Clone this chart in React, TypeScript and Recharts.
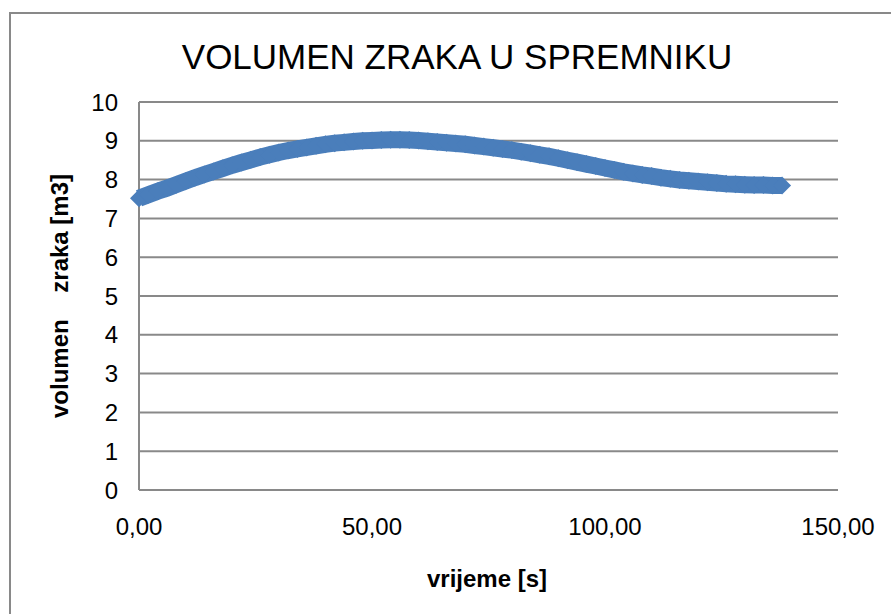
import { ScatterChart, Scatter, XAxis, YAxis, CartesianGrid, Label } from 'recharts';

// vrijeme [s]
const times = [
  0, 2, 4, 6, 8, 10, 12, 14, 16, 18, 20, 22, 24, 26, 28, 30, 32, 34, 36, 38,
  40, 42, 44, 46, 48, 50, 52, 54, 56, 58, 60, 62, 64, 66, 68, 70, 72, 74, 76, 78,
  80, 82, 84, 86, 88, 90, 92, 94, 96, 98, 100, 102, 104, 106, 108, 110, 112, 114, 116, 118,
  120, 122, 124, 126, 128, 130, 132, 134, 136, 138,
];

// volumen zraka [m3]
const volumes = [
  7.52, 7.61, 7.7, 7.78, 7.87, 7.96, 8.05, 8.13, 8.21, 8.29, 8.37, 8.44, 8.51, 8.58, 8.64, 8.7, 8.75, 8.79, 8.83, 8.87,
  8.91, 8.94, 8.96, 8.98, 9.0, 9.01, 9.02, 9.03, 9.03, 9.02, 9.01, 8.99, 8.97, 8.95, 8.93, 8.91, 8.88, 8.85, 8.82, 8.79,
  8.76, 8.72, 8.68, 8.64, 8.6, 8.55, 8.5, 8.45, 8.4, 8.35, 8.3, 8.25, 8.2, 8.16, 8.12, 8.09, 8.05, 8.02, 7.99, 7.97,
  7.95, 7.93, 7.91, 7.89, 7.88, 7.87, 7.86, 7.86, 7.85, 7.85,
];

const xTicks = [0, 50, 100, 150];
const yTicks = [0, 1, 2, 3, 4, 5, 6, 7, 8, 9, 10];

const data = times.map((t, i) => ({ t, v: volumes[i] }));

const BLUE = '#4a7ebb';
const GRID = '#898989';
const FONT = '"Liberation Sans", Arial, sans-serif';

// excel style diamond marker
const Diamond = (props: any) => {
  const { cx, cy } = props;
  const r = 9;
  return (
    <polygon
      points={`${cx},${cy - r} ${cx + r},${cy} ${cx},${cy + r} ${cx - r},${cy}`}
      fill={BLUE}
    />
  );
};

const YTitle = () => (
  <text
    x={59}
    y={296}
    transform="rotate(-90 59 296)"
    textAnchor="middle"
    dominantBaseline="central"
    fontFamily={FONT}
    fontSize={24}
    fontWeight="bold"
    fill="#000"
  >
    {'volumen\u00a0\u00a0\u00a0\u00a0zraka [m3]'}
  </text>
);

const XTitle = () => (
  <text
    x={487}
    y={587}
    textAnchor="middle"
    fontFamily={FONT}
    fontSize={24}
    fontWeight="bold"
    fill="#000"
  >
    vrijeme [s]
  </text>
);

export default function App() {
  return (
    <div style={{ position: 'absolute', left: 0, top: 0, width: 891, height: 614, overflow: 'hidden', background: '#fff' }}>
      <div
        style={{
          position: 'absolute',
          left: 9,
          top: 12,
          width: 920,
          height: 700,
          border: `2px solid ${GRID}`,
        }}
      />
      <div
        style={{
          position: 'absolute',
          left: 157,
          top: 39,
          width: 600,
          textAlign: 'center',
          fontFamily: FONT,
          fontSize: 35,
          lineHeight: '35px',
          color: '#000',
        }}
      >
        VOLUMEN ZRAKA U SPREMNIKU
      </div>
      <div style={{ position: 'absolute', left: 0, top: 0 }}>
        <ScatterChart width={891} height={614} margin={{ top: 102, right: 53, left: 0, bottom: 0 }}>
          <CartesianGrid vertical={false} stroke={GRID} strokeWidth={2} />
          <XAxis
            type="number"
            dataKey="t"
            domain={[0, 150]}
            ticks={xTicks}
            interval={0}
            height={124}
            axisLine={{ stroke: GRID, strokeWidth: 2 }}
            tickLine={false}
            tickMargin={22}
            tick={{ fill: '#000', fontSize: 24, fontFamily: FONT }}
            tickFormatter={(v: number) => v.toFixed(2).replace('.', ',')}
          >
            <Label content={<XTitle />} />
          </XAxis>
          <YAxis
            type="number"
            dataKey="v"
            domain={[0, 10]}
            ticks={yTicks}
            interval={0}
            width={139}
            axisLine={{ stroke: GRID, strokeWidth: 2 }}
            tickLine={false}
            tickMargin={15}
            tick={{ fill: '#000', fontSize: 24, fontFamily: FONT }}
          >
            <Label content={<YTitle />} />
          </YAxis>
          <Scatter
            data={data}
            fill={BLUE}
            shape={<Diamond />}
            line={{ stroke: BLUE, strokeWidth: 17 }}
            isAnimationActive={false}
          />
        </ScatterChart>
      </div>
    </div>
  );
}
